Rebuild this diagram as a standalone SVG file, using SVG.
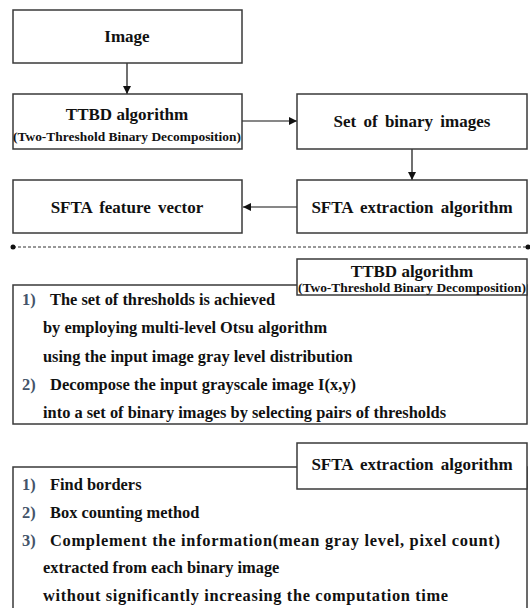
<svg xmlns="http://www.w3.org/2000/svg" width="530" height="608" viewBox="0 0 530 608">
<style>
.box{fill:#fff;stroke:#3a3a3a;stroke-width:1.5}
.t{font-family:"Liberation Serif","Times New Roman","DejaVu Serif",serif;font-weight:bold;fill:#111}
.h{font-size:17px;text-anchor:middle}
.s{font-size:12px;text-anchor:middle}
.l{font-size:16.4px}
.n{fill:#44546a}
.c{stroke:#111;stroke-width:1.2;fill:none}
</style>
<defs>
<marker id="ah" viewBox="0 0 10 10" refX="10" refY="5" markerWidth="8" markerHeight="8" markerUnits="userSpaceOnUse" orient="auto">
<path d="M0,0 L10,5 L0,10 Z" fill="#111"/>
</marker>
</defs>
<g id="connectors">
<line class="c" x1="127" y1="63" x2="127" y2="94" marker-end="url(#ah)"/>
<line class="c" x1="242" y1="121" x2="297" y2="121" marker-end="url(#ah)"/>
<line class="c" x1="412" y1="149" x2="412" y2="180" marker-end="url(#ah)"/>
<line class="c" x1="297" y1="207" x2="243" y2="207" marker-end="url(#ah)"/>
</g>
<g id="image">
<rect class="box" x="13" y="10" width="229" height="53"/>
<text class="t h" x="127" y="42">Image</text>
</g>
<g id="ttbd">
<rect class="box" x="13" y="94" width="229" height="55"/>
<text class="t h" x="127" y="120">TTBD algorithm</text>
<text class="t s" x="127" y="141" textLength="228" lengthAdjust="spacingAndGlyphs">(Two-Threshold Binary Decomposition)</text>
</g>
<g id="binary">
<rect class="box" x="297" y="94" width="230" height="55"/>
<text class="t h" x="412" y="127" word-spacing="3">Set of binary images</text>
</g>
<g id="feature">
<rect class="box" x="13" y="180" width="229" height="53"/>
<text class="t h" x="127" y="213" word-spacing="3">SFTA feature vector</text>
</g>
<g id="sfta">
<rect class="box" x="297" y="180" width="230" height="53"/>
<text class="t h" x="412" y="213" word-spacing="3">SFTA extraction algorithm</text>
</g>
<g id="divider">
<line x1="13" y1="247" x2="527" y2="247" stroke="#333" stroke-width="1" stroke-dasharray="3,2"/>
<circle cx="13" cy="247" r="2.5" fill="#111"/>
<circle cx="528" cy="247" r="2.5" fill="#111"/>
</g>
<g id="ttbd-detail">
<rect class="box" x="13" y="285" width="514" height="139"/>
<text class="t l" x="22" y="305"><tspan class="n">1)</tspan><tspan x="50">The set of thresholds is achieved</tspan></text>
<text class="t l" x="43" y="333">by employing multi-level Otsu algorithm</text>
<text class="t l" x="43" y="362">using the input image gray level distribution</text>
<text class="t l" x="22" y="390"><tspan class="n">2)</tspan><tspan x="50" textLength="306" lengthAdjust="spacingAndGlyphs">Decompose the input grayscale image I(x,y)</tspan></text>
<text class="t l" x="43" y="418">into a set of binary images by selecting pairs of thresholds</text>
</g>
<g id="ttbd-label">
<rect class="box" x="297" y="259" width="230" height="36"/>
<text class="t h" x="412" y="277">TTBD algorithm</text>
<text class="t s" x="412" y="292" textLength="228" lengthAdjust="spacingAndGlyphs">(Two-Threshold Binary Decomposition)</text>
</g>
<g id="sfta-detail">
<rect class="box" x="13" y="467" width="514" height="150"/>
<text class="t l" x="22" y="490"><tspan class="n">1)</tspan><tspan x="50">Find borders</tspan></text>
<text class="t l" x="22" y="518"><tspan class="n">2)</tspan><tspan x="50">Box counting method</tspan></text>
<text class="t l" x="22" y="546"><tspan class="n">3)</tspan><tspan x="50" textLength="450" lengthAdjust="spacing">Complement the information(mean gray level,  pixel count)</tspan></text>
<text class="t l" x="43" y="573">extracted from each binary image</text>
<text class="t l" x="43" y="601" textLength="405" lengthAdjust="spacing">without  significantly increasing the computation time</text>
</g>
<g id="sfta-label">
<rect class="box" x="297" y="443" width="230" height="46"/>
<text class="t h" x="412" y="470" word-spacing="3">SFTA extraction algorithm</text>
</g>
</svg>
